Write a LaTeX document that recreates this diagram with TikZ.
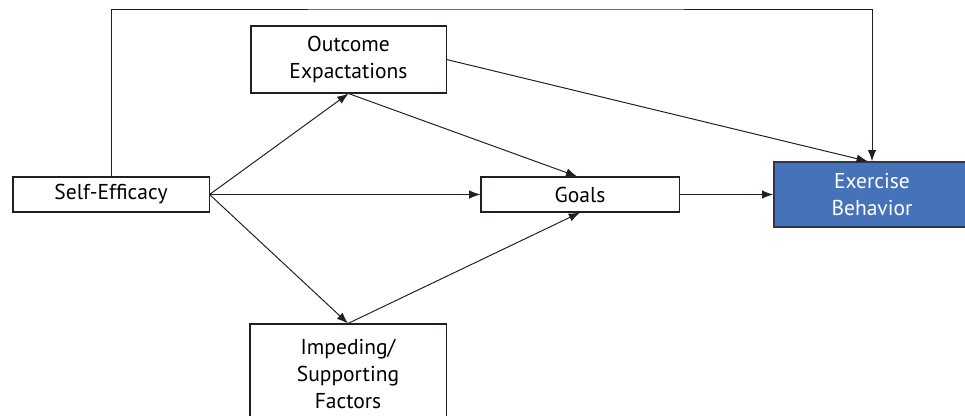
\documentclass[tikz,border=0pt]{standalone}
\usepackage{fontspec}
\setmainfont{PT Sans}
\usepackage{xcolor}
\usetikzlibrary{arrows.meta,positioning}
\definecolor{ink}{HTML}{231F20}
\definecolor{behblue}{HTML}{4672B9}
\definecolor{behedge}{HTML}{2E3748}
\tikzset{
  every node/.style={font=\fontsize{15.3}{19.5}\selectfont},
  box/.style={draw=ink, line width=0.75pt, fill=white, align=center, inner sep=2pt},
  bluebox/.style={box, fill=behblue, draw=behedge, text=white, line width=1pt},
  arrow/.style={-{Latex[length=8pt,width=6pt]}, line width=0.7pt, draw=ink},
}
\begin{document}
\begin{tikzpicture}[x=0.025cm, y=-0.025cm]
\useasboundingbox (0,0) rectangle (965,415);
% constructs of the model
\node[box, minimum width=4.9cm, minimum height=0.875cm] (se) at (111,194.5) {Self-Efficacy};
\node[box, minimum width=4.875cm, minimum height=1.675cm] (oe) at (348.5,59.5) {Outcome\\Expactations};
\node[box, minimum width=4.95cm, minimum height=0.875cm] (goals) at (580,194.5) {Goals};
\node[bluebox, minimum width=4.9cm, minimum height=1.625cm] (eb) at (872,194.5) {Exercise\\Behavior};
\node[box, minimum width=4.9cm, minimum height=2.5cm] (ipf) at (348,374) {Impeding/\\Supporting\\Factors};
% paths
\coordinate (ridge) at (500,9);
\draw[arrow] (se.north) |- (ridge) -| (eb.north);
\draw[arrow] (se.east) -- (oe.south);
\draw[arrow] (se.east) -- (goals.west);
\draw[arrow] (se.east) -- (ipf.north);
\draw[arrow] (oe.east) -- ([xshift=-3pt]eb.north);
\draw[arrow] (oe.south) -- ([xshift=-2pt]goals.north);
\draw[arrow] (ipf.north) -- (goals.south);
\draw[arrow] (goals.east) -- (eb.west);
\end{tikzpicture}
\end{document}
